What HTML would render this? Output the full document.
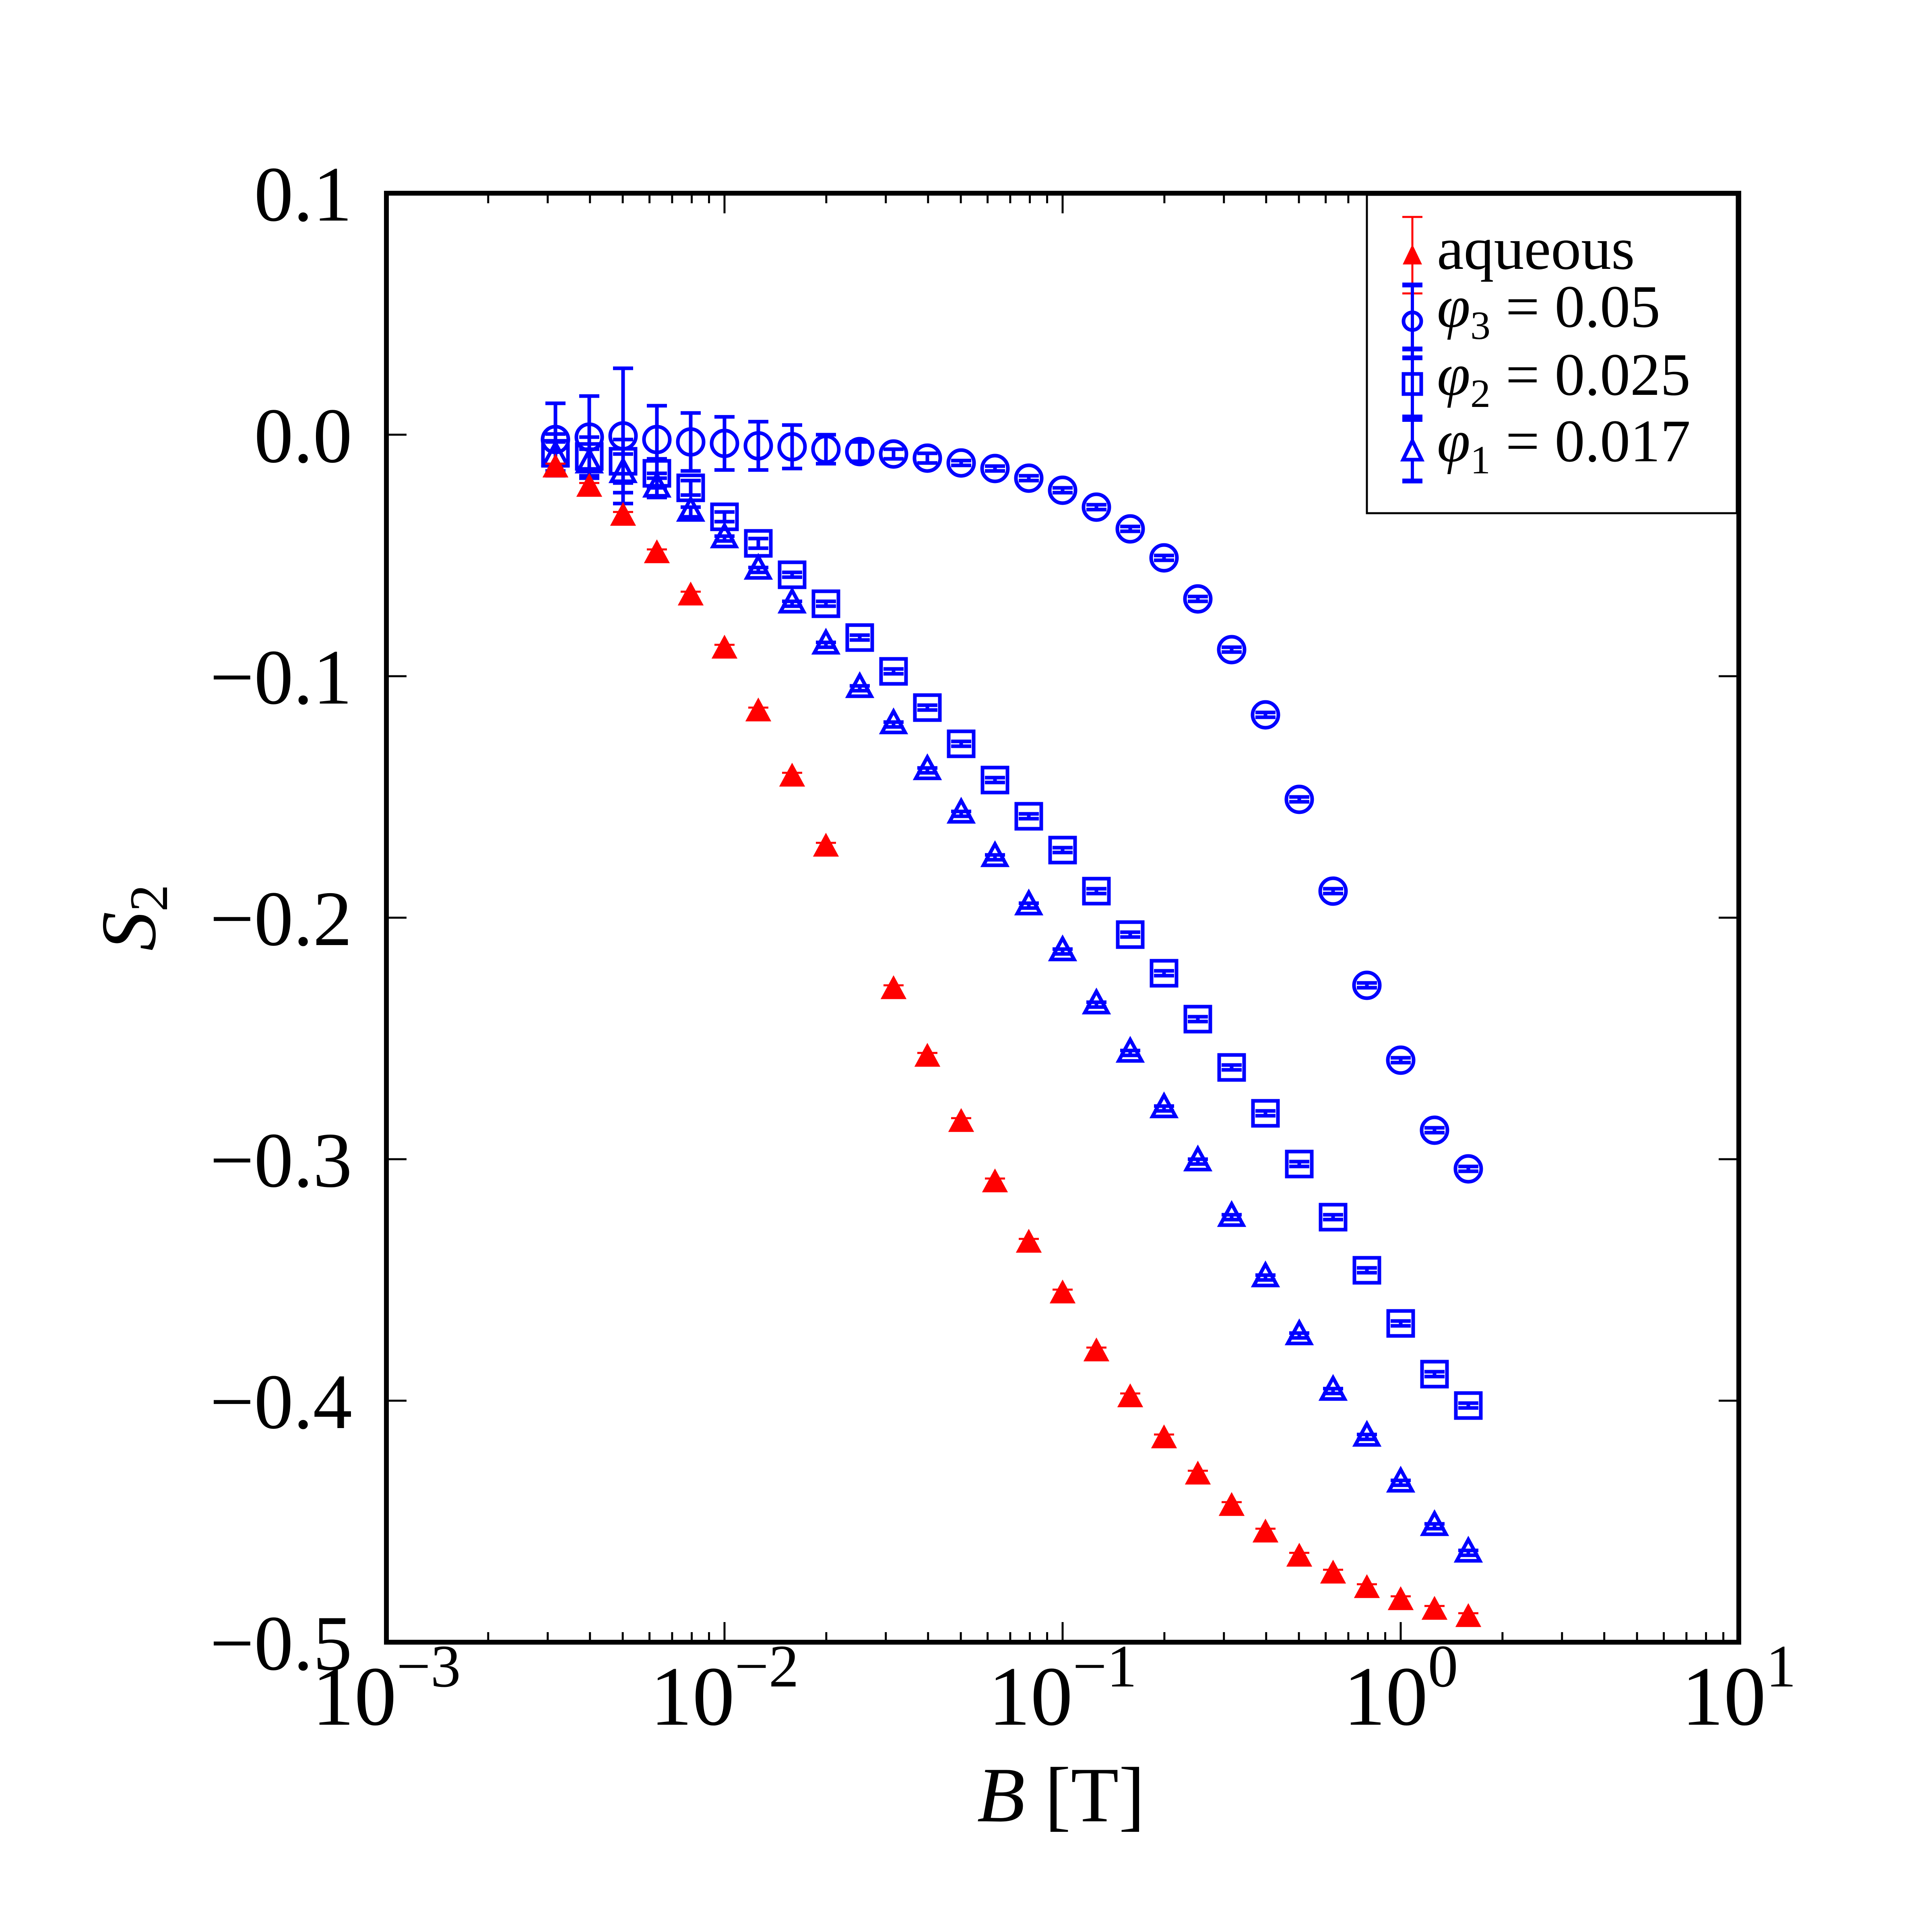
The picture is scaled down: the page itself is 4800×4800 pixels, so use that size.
<!DOCTYPE html>
<html><head><meta charset="utf-8"><style>
html,body{margin:0;padding:0;background:#fff;}
svg{display:block;}
text{font-family:"Liberation Serif","DejaVu Serif",serif;}
</style></head>
<body>
<svg id="chart" xmlns="http://www.w3.org/2000/svg" width="4800" height="4800" viewBox="0 0 4800 4800">
<rect width="4800" height="4800" fill="#fff"/>
<g id="marks"></g>
<g id="axes"></g>
</svg>
<script>
const xExp = [-2.5,-2.4,-2.3,-2.2,-2.1,-2.0,-1.9,-1.8,-1.7,-1.6,-1.5,-1.4,-1.3,-1.2,-1.1,-1.0,-0.9,-0.8,-0.7,-0.6,-0.5,-0.4,-0.3,-0.2,-0.1,0.0,0.1,0.2];
const aqX = [-2.5,-2.4,-2.3,-2.2,-2.1,-2.0,-1.9,-1.8,-1.7,-1.5,-1.4,-1.3,-1.2,-1.1,-1.0,-0.9,-0.8,-0.7,-0.6,-0.5,-0.4,-0.3,-0.2,-0.1,0.0,0.1,0.2];
const aqY = [-0.014,-0.022,-0.034,-0.0495,-0.067,-0.089,-0.115,-0.142,-0.171,-0.230,-0.258,-0.285,-0.310,-0.335,-0.356,-0.380,-0.399,-0.416,-0.431,-0.444,-0.455,-0.465,-0.472,-0.478,-0.483,-0.487,-0.490];
const aqE = [0.002,0.002,0.002,0.002,0.002,0.002,0.002,0.002,0.002,0.002,0.002,0.002,0.002,0.002,0.002,0.002,0.002,0.002,0.002,0.002,0.002,0.002,0.002,0.002,0.002,0.002,0.002];
const p3Y = [-0.002,-0.001,-0.0005,-0.002,-0.003,-0.0036,-0.0046,-0.005,-0.006,-0.007,-0.008,-0.0097,-0.0117,-0.014,-0.018,-0.023,-0.030,-0.039,-0.051,-0.068,-0.089,-0.116,-0.151,-0.189,-0.228,-0.259,-0.288,-0.304];
const p3E = [0.015,0.017,0.028,0.014,0.012,0.011,0.010,0.009,0.006,0.004,0.002,0.002,0.001,0.001,0.001,0.001,0.001,0.001,0.001,0.001,0.001,0.001,0.001,0.001,0.001,0.001,0.001,0.001];
const p2Y = [-0.0077,-0.009,-0.011,-0.016,-0.022,-0.034,-0.045,-0.058,-0.070,-0.084,-0.098,-0.113,-0.128,-0.143,-0.158,-0.172,-0.189,-0.207,-0.223,-0.242,-0.262,-0.281,-0.302,-0.324,-0.346,-0.368,-0.389,-0.402];
const p2E = [0.008,0.008,0.009,0.006,0.003,0.002,0.002,0.001,0.001,0.001,0.001,0.001,0.001,0.001,0.001,0.001,0.001,0.001,0.001,0.001,0.001,0.001,0.001,0.001,0.001,0.001,0.001,0.001];
const p1Y = [-0.009,-0.012,-0.016,-0.022,-0.032,-0.043,-0.056,-0.070,-0.087,-0.105,-0.120,-0.139,-0.157,-0.175,-0.195,-0.214,-0.236,-0.256,-0.279,-0.301,-0.324,-0.349,-0.373,-0.396,-0.415,-0.434,-0.452,-0.463];
const p1E = [0.006,0.006,0.008,0.004,0.002,0.001,0.001,0.001,0.001,0.001,0.001,0.001,0.001,0.001,0.001,0.001,0.001,0.001,0.001,0.001,0.001,0.001,0.001,0.001,0.001,0.001,0.001,0.001];
const yTicks = [0.1,0.0,-0.1,-0.2,-0.3,-0.4,-0.5];
const yTickLabels = ["0.1","0.0","\u22120.1","\u22120.2","\u22120.3","\u22120.4","\u22120.5"];
const xTickExp = [-3,-2,-1,0,1];
const xTickLabels = ["\u22123","\u22122","\u22121","0","1"];

const L=960, R=4320, T=480, B=4080;
const NS="http://www.w3.org/2000/svg";
function sx(e){return L+(e+3)/4*(R-L);}
function sy(v){return T+(0.1-v)/0.6*(B-T);}
function mk(tag,attrs,parent){const el=document.createElementNS(NS,tag);for(const k in attrs)el.setAttribute(k,attrs[k]);parent.appendChild(el);return el;}
const marks=document.getElementById('marks');
const axes=document.getElementById('axes');

function errbar(g,x,y,e,col,lw){
  const y1=sy(y+e),y2=sy(y-e);
  mk('line',{x1:x,y1:y1,x2:x,y2:y2,stroke:col,'stroke-width':lw},g);
  mk('line',{x1:x-25,y1:y1,x2:x+25,y2:y1,stroke:col,'stroke-width':lw},g);
  mk('line',{x1:x-25,y1:y2,x2:x+25,y2:y2,stroke:col,'stroke-width':lw},g);
}
function tri(g,x,y,s,fill,stroke){
  return mk('polygon',{points:`${x},${y-s} ${x-s*0.87},${y+s*0.6} ${x+s*0.87},${y+s*0.6}`,fill:fill,stroke:stroke,'stroke-width':stroke==='none'?0:9},g);
}

const g1=mk('g',{},marks);


xExp.forEach((e,i)=>{const x=sx(e),y=sy(p1Y[i]);
  const m=tri(g1,x,y,33,'none','#0000ff');
  
  
  errbar(g1,x,p1Y[i],p1E[i],'#0000ff',9);});
const g2=mk('g',{},marks);


xExp.forEach((e,i)=>{const x=sx(e),y=sy(p2Y[i]);
  const m=mk('rect',{x:x-31,y:y-31,width:62,height:62,fill:'none',stroke:'#0000ff','stroke-width':9},g2);
  
  
  errbar(g2,x,p2Y[i],p2E[i],'#0000ff',9);});
const g3=mk('g',{},marks);


xExp.forEach((e,i)=>{const x=sx(e),y=sy(p3Y[i]);
  const m=mk('circle',{cx:x,cy:y,r:32,fill:'none',stroke:'#0000ff','stroke-width':9},g3);
  
  
  errbar(g3,x,p3Y[i],p3E[i],'#0000ff',9);});
const g0=mk('g',{},marks);


aqX.forEach((e,i)=>{const x=sx(e),y=sy(aqY[i]);
  const m=tri(g0,x,y,37,'#ff0000','none');
  
  
  errbar(g0,x,aqY[i],aqE[i],'#ff0000',5);});

for(let d=-3;d<1;d++){for(let k=2;k<=9;k++){const x=sx(d+Math.log10(k));
  mk('line',{x1:x,y1:B,x2:x,y2:B-25,stroke:'#000','stroke-width':5},axes);
  mk('line',{x1:x,y1:T,x2:x,y2:T+25,stroke:'#000','stroke-width':5},axes);}}
xTickExp.forEach((e,i)=>{const x=sx(e);
  mk('line',{x1:x,y1:B,x2:x,y2:B-50,stroke:'#000','stroke-width':5},axes);
  mk('line',{x1:x,y1:T,x2:x,y2:T+50,stroke:'#000','stroke-width':5},axes);
  const t=mk('text',{x:x,y:B+205,'font-size':210,'text-anchor':'middle',fill:'#000'},axes);
  
  
  t.appendChild(document.createTextNode('10'));
  const s=mk('tspan',{dy:-95,'font-size':150},t);
  s.textContent=xTickLabels[i];
});
yTicks.forEach((v,i)=>{const y=sy(v);
  mk('line',{x1:L,y1:y,x2:L+50,y2:y,stroke:'#000','stroke-width':5},axes);
  mk('line',{x1:R,y1:y,x2:R-50,y2:y,stroke:'#000','stroke-width':5},axes);
  const t=mk('text',{x:L-85,y:y+68,'font-size':195,'text-anchor':'end',fill:'#000'},axes);
  
  
  t.textContent=yTickLabels[i];});
const frame=mk('rect',{x:L,y:T,width:R-L,height:B-T,fill:'none',stroke:'#000','stroke-width':12},axes);


</script>
<svg style="position:absolute;left:0;top:0" width="4800" height="4800" viewBox="0 0 4800 4800">
<text x="2636" y="4525" font-size="195" text-anchor="middle"><tspan font-style="italic">B</tspan> [T]</text>
<g transform="translate(385,2280) rotate(-90)"><text x="0" y="0" font-size="195" text-anchor="middle"><tspan font-style="italic">S</tspan><tspan font-size="135" dy="30">2</tspan></text></g>
<g>
<rect x="3396" y="484" width="919" height="791" fill="#fff" stroke="#000" stroke-width="5"/>
<g>
<line x1="3509" y1="539" x2="3509" y2="729" stroke="#f00" stroke-width="5"/>
<line x1="3484" y1="539" x2="3534" y2="539" stroke="#f00" stroke-width="5"/>
<line x1="3484" y1="729" x2="3534" y2="729" stroke="#f00" stroke-width="5"/>
<polygon points="3509,607 3485,657 3533,657" fill="#f00"/>
<text x="3570" y="668" font-size="150">aqueous</text></g>
<g>
<line x1="3509" y1="708" x2="3509" y2="889" stroke="#00f" stroke-width="8"/>
<line x1="3484" y1="708" x2="3534" y2="708" stroke="#00f" stroke-width="12"/>
<line x1="3484" y1="889" x2="3534" y2="889" stroke="#00f" stroke-width="12"/>
<circle cx="3509" cy="798" r="22" fill="#fff" stroke="#00f" stroke-width="9"/>
<line x1="3509" y1="776" x2="3509" y2="820" stroke="#00f" stroke-width="8"/>
<text x="3570" y="812" font-size="150"><tspan font-style="italic">φ</tspan><tspan font-size="100" dy="30">3</tspan><tspan dy="-30"> = 0.05</tspan></text></g>
<g>
<line x1="3509" y1="867" x2="3509" y2="1042" stroke="#00f" stroke-width="8"/>
<line x1="3484" y1="867" x2="3534" y2="867" stroke="#00f" stroke-width="12"/>
<line x1="3484" y1="1042" x2="3534" y2="1042" stroke="#00f" stroke-width="12"/>
<rect x="3487" y="929" width="44" height="50" fill="#fff" stroke="#00f" stroke-width="9"/>
<line x1="3509" y1="929" x2="3509" y2="979" stroke="#00f" stroke-width="8"/>
<text x="3570" y="981" font-size="150"><tspan font-style="italic">φ</tspan><tspan font-size="100" dy="30">2</tspan><tspan dy="-30"> = 0.025</tspan></text></g>
<g>
<line x1="3509" y1="1036" x2="3509" y2="1195" stroke="#00f" stroke-width="8"/>
<line x1="3484" y1="1036" x2="3534" y2="1036" stroke="#00f" stroke-width="12"/>
<line x1="3484" y1="1195" x2="3534" y2="1195" stroke="#00f" stroke-width="12"/>
<polygon points="3509,1095 3486,1142 3532,1142" fill="#fff" stroke="#00f" stroke-width="9"/>
<text x="3570" y="1146" font-size="150"><tspan font-style="italic">φ</tspan><tspan font-size="100" dy="30">1</tspan><tspan dy="-30"> = 0.017</tspan></text></g>
</g>
</svg>
</body></html>
